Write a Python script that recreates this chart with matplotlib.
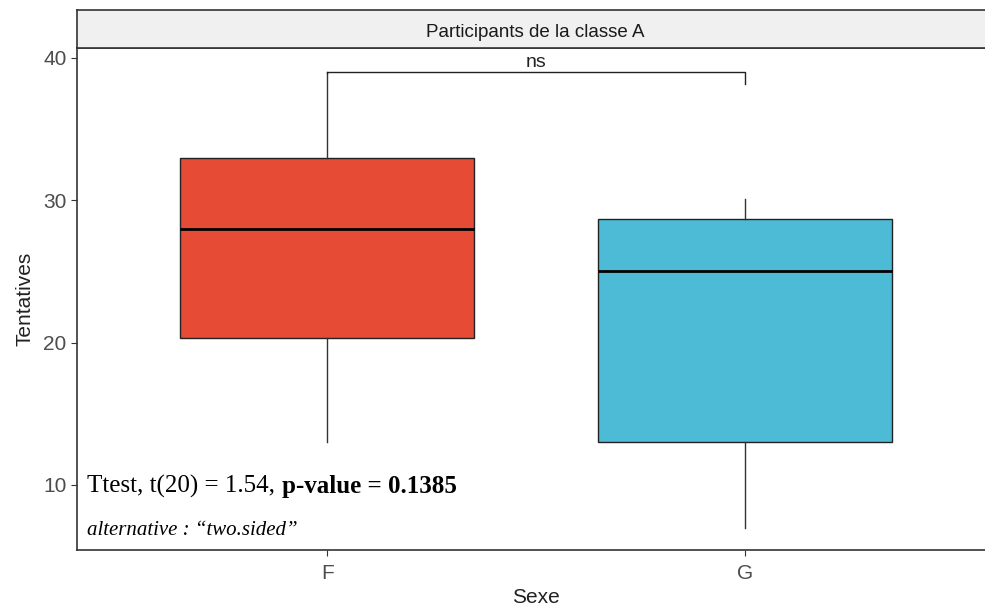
import matplotlib.pyplot as plt

# values
groups = ['F', 'G']
whislo = [13.0, 7.0]
q1 = [20.3, 13.0]
med = [28.0, 25.0]
q3 = [33.0, 28.7]
whishi = [39.0, 30.1]
colors = ['#E64B35', '#4DBBD5']

yticks = [10, 20, 30, 40]
bracket_y = 39.0
bracket_drop = 0.8
facet_title = 'Participants de la classe A'

plt.rcParams['font.family'] = ['Liberation Sans', 'DejaVu Sans']

fig = plt.figure(figsize=(9.85, 6.11), dpi=100)
# panel is a bit wider than the picture (cropped on the right like the reference)
ax = fig.add_axes([77 / 985, 61 / 611, 918 / 985, 502 / 611])

stats = []
for i, g in enumerate(groups):
    stats.append(dict(label=g, whislo=whislo[i], q1=q1[i], med=med[i],
                      q3=q3[i], whishi=whishi[i], fliers=[]))
pos = [1, 2]
bp = ax.bxp(stats, positions=pos, widths=0.705, patch_artist=True,
            showcaps=False,
            boxprops=dict(edgecolor='#222222', linewidth=1.0),
            whiskerprops=dict(color='#333333', linewidth=1.0),
            medianprops=dict(color='black', linewidth=2.0))
for patch, c in zip(bp['boxes'], colors):
    patch.set_facecolor(c)

ax.set_xlim(0.4, 2.6)
ax.set_ylim(5.43, 40.7)
ax.set_yticks(yticks)
ax.set_xticks(pos)
ax.set_xticklabels(groups)
ax.tick_params(axis='both', labelsize=15, colors='#333333', labelcolor='#4D4D4D', length=4)
ax.tick_params(axis='x', pad=6)
for s in ax.spines.values():
    s.set_color('#333333')
    s.set_linewidth(1.2)
ax.set_xlabel('Sexe', fontsize=15, color='#222222', labelpad=4)
ax.set_ylabel('Tentatives', fontsize=15, color='#222222', labelpad=6)

# comparison bracket
ax.plot([pos[0], pos[0], pos[1], pos[1]],
        [whishi[0] - 0.05, bracket_y, bracket_y, bracket_y - bracket_drop],
        color='#222222', linewidth=1.0)
ax.text((pos[0] + pos[1]) / 2, bracket_y + 0.1, 'ns', ha='center', va='bottom',
        fontsize=14, color='#222222')

# test annotation
ax.text(0.425, 9.43, 'Ttest, t(20) = 1.54, ', fontsize=18, family='Liberation Serif',
        ha='left', va='baseline', color='black')
ax.annotate('p-value = 0.1385', xy=(1, 0), xycoords=ax.texts[-1], fontsize=18,
            family='Liberation Serif', weight='bold', ha='left', va='bottom')
ax.text(0.425, 6.5, 'alternative : \u201ctwo.sided\u201d', fontsize=15,
        family='Liberation Serif', style='italic', ha='left', va='baseline')

# facet strip
sax = fig.add_axes([77 / 985, 563 / 611, 918 / 985, 38 / 611])
sax.set_xticks([])
sax.set_yticks([])
sax.set_facecolor('#F0F0F0')
for s in sax.spines.values():
    s.set_color('#333333')
    s.set_linewidth(1.2)
sax.text((535 - 77) / 918, 0.42, facet_title, ha='center', va='center',
         fontsize=13.5, color='#1A1A1A', transform=sax.transAxes)

fig.savefig('out.png', dpi=100)
